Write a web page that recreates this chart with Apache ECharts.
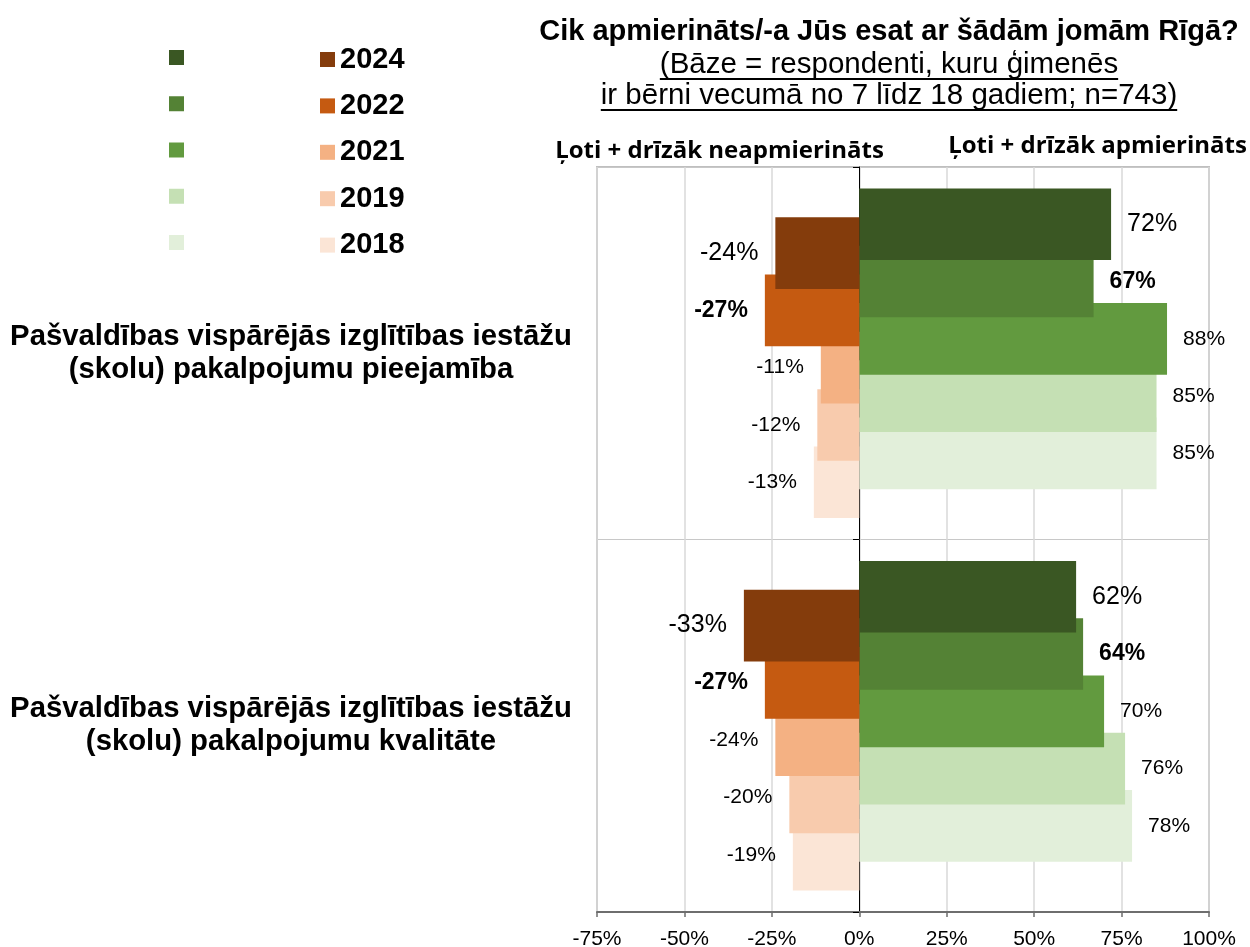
<!DOCTYPE html>
<html>
<head>
<meta charset="utf-8">
<script src="https://cdn.jsdelivr.net/npm/echarts@6/dist/echarts.min.js"></script>
<style>
  html, body { margin: 0; padding: 0; background: #ffffff; }
  #chart { width: 1250px; height: 947px; }
</style>
</head>
<body>
<div id="chart"></div>
<script>
// Survey areas (category axis)
const categories = [
  'Pašvaldības vispārējās izglītības iestāžu\n(skolu) pakalpojumu pieejamība',
  'Pašvaldības vispārējās izglītības iestāžu\n(skolu) pakalpojumu kvalitāte'
];
const years = ['2024', '2022', '2021', '2019', '2018'];

// "Ļoti + drīzāk apmierināts" shares, % (one value per category)
const satisfied2024 = [72, 62];
const satisfied2022 = [67, 64];
const satisfied2021 = [88, 70];
const satisfied2019 = [85, 76];
const satisfied2018 = [85, 78];

// "Ļoti + drīzāk neapmierināts" shares, % (drawn to the left of zero)
const dissatisfied2024 = [-24, -33];
const dissatisfied2022 = [-27, -27];
const dissatisfied2021 = [-11, -24];
const dissatisfied2019 = [-12, -20];
const dissatisfied2018 = [-13, -19];

// Value axis ticks
const axisMin = -75;
const axisMax = 100;
const axisStep = 25;

const titleText = 'Cik apmierināts/-a Jūs esat ar šādām jomām Rīgā?';
const baseLines = ['(Bāze = respondenti, kuru ģimenēs', 'ir bērni vecumā no 7 līdz 18 gadiem; n=743)'];
const headNegative = 'Ļoti + drīzāk neapmierināts';
const headPositive = 'Ļoti + drīzāk apmierināts';

const satisfiedData = [satisfied2024, satisfied2022, satisfied2021, satisfied2019, satisfied2018];
const dissatisfiedData = [dissatisfied2024, dissatisfied2022, dissatisfied2021, dissatisfied2019, dissatisfied2018];

const greenColors = ['#3A5723', '#548235', '#629A3F', '#C5E0B4', '#E2EFDA'];
const orangeColors = ['#843C0C', '#C55A11', '#F4B183', '#F8CBAD', '#FBE5D6'];

const FONT = '"Liberation Sans", Arial, Helvetica, sans-serif';
const HEAD_FONT = '"Open Sans", Lato, sans-serif';

// label look per year: latest year large, previous wave bold, older ones plain
const labelLook = [
  { fontSize: 25, fontWeight: 'normal' },
  { fontSize: 23, fontWeight: 'bold' },
  { fontSize: 21, fontWeight: 'normal' },
  { fontSize: 21, fontWeight: 'normal' },
  { fontSize: 21, fontWeight: 'normal' }
];

const posNames = years.map(y => 'Apmierināti ' + y);

function measure(str, font) {
  const ctx = document.createElement('canvas').getContext('2d');
  ctx.font = font;
  return ctx.measureText(str).width;
}

// plot frame
const PLOT = { left: 597, right: 41, top: 167, bottom: 35 };
const SHIFT = 14.4;
const BAR_W = 71.6;

const series = [];
years.forEach((y, i) => {
  series.push({
    name: posNames[i],
    type: 'bar',
    xAxisIndex: 1,
    yAxisIndex: 2,
    data: satisfiedData[i],
    barWidth: BAR_W,
    barGap: '-20%',
    z: 10 - i,
    itemStyle: { color: greenColors[i] },
    label: {
      show: true,
      position: 'right',
      distance: 16,
      color: '#000',
      fontFamily: FONT,
      fontSize: labelLook[i].fontSize,
      fontWeight: labelLook[i].fontWeight,
      formatter: p => p.value + '%'
    }
  });
});
years.forEach((y, i) => {
  series.push({
    name: y,
    type: 'bar',
    xAxisIndex: 2,
    yAxisIndex: 3,
    data: dissatisfiedData[i],
    barWidth: BAR_W,
    barGap: '-20%',
    z: 10 - i,
    itemStyle: { color: orangeColors[i] },
    label: {
      show: true,
      position: 'left',
      distance: 17,
      color: '#000',
      fontFamily: FONT,
      fontSize: labelLook[i].fontSize,
      fontWeight: labelLook[i].fontWeight,
      formatter: p => p.value + '%'
    }
  });
});

// heading texts with underlines under the base description
const titleCx = 889;
const subFont = 'normal 29.5px ' + FONT;
const graphics = [
  { type: 'text', x: titleCx, y: 32, style: { text: titleText, font: 'bold 29px ' + FONT, fill: '#000', align: 'center', verticalAlign: 'middle' } }
];
const subY = [65, 96];
baseLines.forEach((line, k) => {
  const w = measure(line, subFont);
  graphics.push({ type: 'text', x: titleCx, y: subY[k], style: { text: line, font: subFont, fill: '#000', align: 'center', verticalAlign: 'middle' } });
  graphics.push({ type: 'line', shape: { x1: titleCx - w / 2, y1: subY[k] + 14, x2: titleCx + w / 2, y2: subY[k] + 14 }, style: { stroke: '#000', lineWidth: 2 } });
});
graphics.push({ type: 'text', x: 719.5, y: 151, style: { text: headNegative, font: 'bold 24px ' + HEAD_FONT, fill: '#000', align: 'center', verticalAlign: 'middle' } });
graphics.push({ type: 'text', x: 1097.5, y: 146, style: { text: headPositive, font: 'bold 24px ' + HEAD_FONT, fill: '#000', align: 'center', verticalAlign: 'middle' } });

const legendCommon = {
  orient: 'vertical',
  padding: 0,
  itemWidth: 15,
  itemHeight: 15,
  icon: 'rect',
  selectedMode: false,
  textStyle: { fontFamily: FONT, fontSize: 29, fontWeight: 'bold', color: '#000' }
};

const gridCommon = { left: PLOT.left, right: PLOT.right, containLabel: false, outerBoundsMode: 'none' };

const option = {
  animation: false,
  backgroundColor: '#ffffff',
  graphic: graphics,
  legend: [
    Object.assign({}, legendCommon, { left: 169, top: 50, itemGap: 31.25, data: posNames, formatter: () => '' }),
    Object.assign({}, legendCommon, { left: 320, top: 45, itemGap: 17.4, data: years })
  ],
  grid: [
    Object.assign({}, gridCommon, { top: PLOT.top, bottom: PLOT.bottom, show: true, borderColor: '#BFBFBF', borderWidth: 2, backgroundColor: 'transparent' }),
    Object.assign({}, gridCommon, { top: PLOT.top - SHIFT, bottom: PLOT.bottom + SHIFT }),
    Object.assign({}, gridCommon, { top: PLOT.top + SHIFT, bottom: PLOT.bottom - SHIFT })
  ],
  xAxis: [
    {
      gridIndex: 0, type: 'value', min: axisMin, max: axisMax, interval: axisStep,
      axisLine: { show: true, onZero: false, lineStyle: { color: '#6E6E6E', width: 2 } },
      axisTick: { show: true, length: 5, lineStyle: { color: '#6E6E6E', width: 1.5 } },
      axisLabel: { formatter: '{value}%', fontFamily: FONT, fontSize: 21, color: '#000', margin: 17 },
      splitLine: { show: true, lineStyle: { color: '#D9D9D9', width: 1.5 } }
    },
    { gridIndex: 1, type: 'value', min: axisMin, max: axisMax, show: false },
    { gridIndex: 2, type: 'value', min: axisMin, max: axisMax, show: false }
  ],
  yAxis: [
    {
      gridIndex: 0, type: 'category', data: categories, inverse: true,
      position: 'left', offset: -262,
      axisLine: { show: true, onZero: false, lineStyle: { color: '#000', width: 1 } },
      axisTick: { show: true, length: 6, lineStyle: { color: '#000' } },
      axisLabel: {
        margin: 568, align: 'center', fontFamily: FONT, fontSize: 29.3, fontWeight: 'bold',
        color: '#000', lineHeight: 33, padding: [12, 0, 0, 0]
      },
      splitLine: { show: true, lineStyle: { color: '#C8C8C8', width: 1 } }
    },
    {
      gridIndex: 0, type: 'category', data: categories, inverse: true,
      position: 'left', offset: -262,
      axisLine: { show: false, onZero: false },
      axisTick: { show: true, alignWithLabel: true, length: 6, lineStyle: { color: '#000' } },
      axisLabel: { show: false },
      splitLine: { show: false }
    },
    { gridIndex: 1, type: 'category', data: categories, inverse: true, show: false },
    { gridIndex: 2, type: 'category', data: categories, inverse: true, show: false }
  ],
  series: series
};

const chart = echarts.init(document.getElementById('chart'), null, { renderer: 'canvas' });
chart.setOption(option);
</script>
</body>
</html>
